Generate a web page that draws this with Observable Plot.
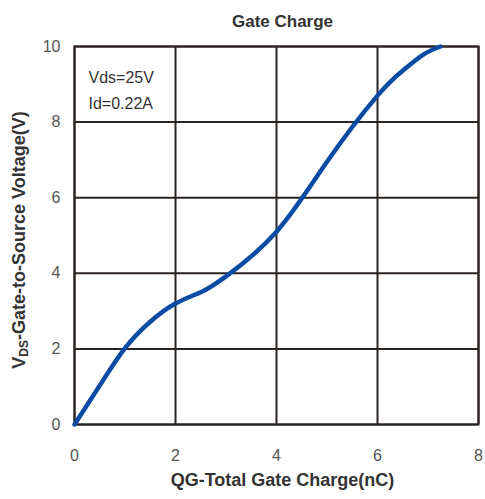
<!DOCTYPE html>
<html>
<head>
<meta charset="utf-8">
<script src="https://cdn.jsdelivr.net/npm/d3@7"></script>
<script src="https://cdn.jsdelivr.net/npm/@observablehq/plot@0.6"></script>
<style>
  html, body { margin: 0; padding: 0; background: #fff; }
  svg { display: block; }
</style>
</head>
<body>
<div id="chart"></div>
<script>
const qg  = [0, 0.5, 1.0, 1.5, 2.0, 2.5, 3.0, 4.0, 5.0, 6.0, 6.5, 6.9, 7.25];
const vgs = [0, 1.03, 2.02, 2.72, 3.2, 3.5, 3.92, 5.1, 6.95, 8.7, 9.36, 9.78, 10.0];
const xTicks = [0, 2, 4, 6, 8];
const yTicks = [0, 2, 4, 6, 8, 10];
const title = "Gate Charge";
const xLabel = "QG-Total Gate Charge(nC)";
const yLabelMain = "V";
const yLabelSub = "DS";
const yLabelRest = "-Gate-to-Source Voltage(V)";
const notes = ["Vds=25V", "Id=0.22A"];

const data = qg.map((x, i) => ({x, y: vgs[i]}));
const ink = "#2b2522";
const font = "Liberation Sans, Arial, Helvetica, sans-serif";

const plot = Plot.plot({
  width: 485,
  height: 499,
  marginLeft: 74,
  marginRight: 7,
  marginTop: 46,
  marginBottom: 75,
  style: {fontFamily: font, background: "#fff"},
  x: {domain: [0, 8], ticks: xTicks},
  y: {domain: [0, 10], ticks: yTicks},
  marks: [
    Plot.gridX(xTicks, {stroke: ink, strokeOpacity: 1, strokeWidth: 2}),
    Plot.gridY(yTicks, {stroke: ink, strokeOpacity: 1, strokeWidth: 2}),
    Plot.frame({stroke: ink, strokeWidth: 2}),
    Plot.axisX(xTicks, {tickSize: 0, tickPadding: 25, fontSize: 16, fill: "#555", label: null}),
    Plot.axisY(yTicks, {tickSize: 0, tickPadding: 14, fontSize: 16, fill: "#555", label: null}),
    Plot.line(data, {x: "x", y: "y", curve: "natural", stroke: "#0a4ba3", strokeWidth: 4.5}),
    Plot.text([title], {frameAnchor: "top", dy: -32, dx: 6, fontSize: 17, fontWeight: "bold", fill: "#333"}),
    Plot.text([xLabel], {frameAnchor: "bottom", dy: 61, dx: 6, fontSize: 18, fontWeight: "bold", fill: "#333"}),
    Plot.text([notes[0]], {frameAnchor: "top-left", dx: 14, dy: 25, fontSize: 16, fill: "#333", textAnchor: "start"}),
    Plot.text([notes[1]], {frameAnchor: "top-left", dx: 14, dy: 51, fontSize: 16, fill: "#333", textAnchor: "start"})
  ]
});

// y-axis label with subscript
const svg = d3.select(plot);
const t = svg.append("text")
  .attr("transform", "translate(25,240) rotate(-90)")
  .attr("text-anchor", "middle")
  .attr("font-family", font)
  .attr("font-size", 18)
  .attr("font-weight", "bold")
  .attr("fill", "#333");
t.append("tspan").text(yLabelMain);
t.append("tspan").attr("font-size", 12).attr("dy", 3).text(yLabelSub);
t.append("tspan").attr("dy", -3).text(yLabelRest);

document.getElementById("chart").appendChild(plot);
</script>
</body>
</html>
